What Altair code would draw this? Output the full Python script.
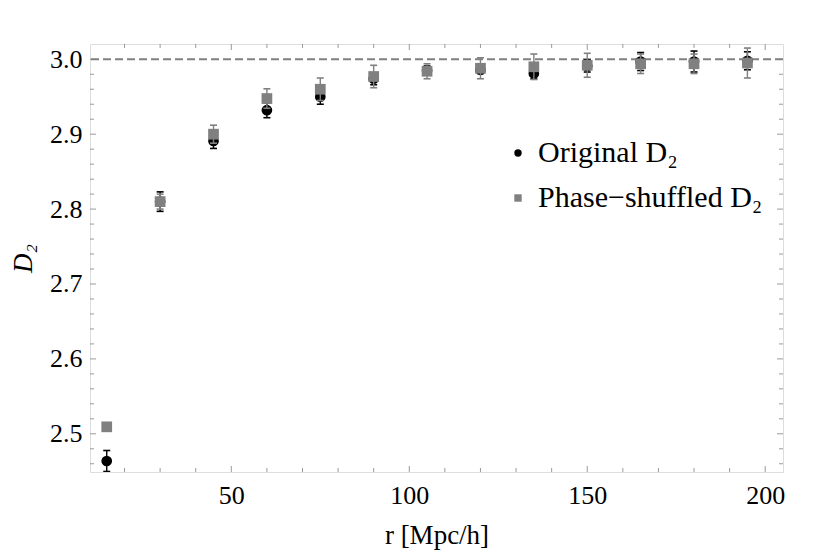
import altair as alt
import pandas as pd

# ---------------- data ----------------
r_values = [15, 30, 45, 60, 75, 90, 105, 120, 135, 150, 165, 180, 195]
original_d2 = [2.4637, 2.810, 2.891, 2.932, 2.950, 2.974, 2.985, 2.986, 2.981, 2.991, 2.997, 2.997, 2.998]
original_err = [0.014, 0.013, 0.010, 0.010, 0.010, 0.008, 0.006, 0.005, 0.007, 0.008, 0.012, 0.014, 0.012]
shuffled_d2 = [2.5093, 2.810, 2.900, 2.9476, 2.960, 2.977, 2.984, 2.988, 2.990, 2.992, 2.994, 2.994, 2.995]
shuffled_err = [0.004, 0.010, 0.012, 0.013, 0.015, 0.015, 0.010, 0.014, 0.017, 0.016, 0.013, 0.013, 0.020]

series_names = ["Original D\u2082", "Phase\u2212shuffled D\u2082"]
reference_level = [3.0]

x_major_ticks = [50, 100, 150, 200]
x_minor_ticks = [20, 30, 40, 60, 70, 80, 90, 110, 120, 130, 140, 160, 170, 180, 190]
y_major_ticks = [2.5, 2.6, 2.7, 2.8, 2.9, 3.0]
y_minor_ticks = [2.46, 2.48, 2.52, 2.54, 2.56, 2.58, 2.62, 2.64, 2.66, 2.68,
                 2.72, 2.74, 2.76, 2.78, 2.82, 2.84, 2.86, 2.88, 2.92, 2.94,
                 2.96, 2.98]

# ---------------- tables ----------------
frames = []
for name, vals, errs in [(series_names[0], original_d2, original_err),
                         (series_names[1], shuffled_d2, shuffled_err)]:
    d = pd.DataFrame({"r": r_values, "D2": vals, "err": errs})
    d["series"] = name
    d["lo"] = d["D2"] - d["err"]
    d["hi"] = d["D2"] + d["err"]
    frames.append(d)
df = pd.concat(frames, ignore_index=True)
df_orig = frames[0]
df_shuf = frames[1]

W, H = 693, 428
FONT = "Liberation Serif"
GRAY = "#808080"
FRAME = "#9a9a9a"

xs = alt.Scale(domain=[10.3, 205.0], nice=False, zero=False)
ys = alt.Scale(domain=[2.449, 3.0204], nice=False, zero=False)

x_axis = alt.Axis(values=x_major_ticks, ticks=False, domain=False, grid=False,
                  labelFont=FONT, labelFontSize=26, labelColor="black",
                  labelPadding=10, labelFlush=False, format="d",
                  title="r [Mpc/h]", titleFont=FONT, titleFontSize=27,
                  titleFontWeight="normal", titleColor="black", titlePadding=14)
y_axis = alt.Axis(values=y_major_ticks, ticks=False, domain=False, grid=False,
                  labelFont=FONT, labelFontSize=26, labelColor="black",
                  labelPadding=8, labelFlush=False, format=".1f",
                  title="D\u2082", titleFont=FONT, titleFontSize=27,
                  titleFontStyle="italic", titleFontWeight="normal",
                  titleColor="black", titlePadding=12)


def X(field):
    return alt.X(field, scale=xs, axis=x_axis)


def Y(field):
    return alt.Y(field, scale=ys, axis=y_axis)


# reference dashed line
ref = alt.Chart(pd.DataFrame({"y": reference_level})).mark_rule(
    color=GRAY, strokeWidth=2, strokeDash=[8, 4]
).encode(y=Y("y:Q"))


def errorbars(d, color):
    base = alt.Chart(d)
    stem = base.mark_rule(color=color, strokeWidth=1.4, clip=True).encode(
        x=X("r:Q"), y=Y("lo:Q"), y2="hi:Q",
    )
    cap_lo = base.mark_tick(color=color, thickness=1.6, size=7,
                            orient="horizontal", opacity=1, clip=True).encode(
        x=X("r:Q"), y=Y("lo:Q"),
    )
    cap_hi = base.mark_tick(color=color, thickness=1.6, size=7,
                            orient="horizontal", opacity=1, clip=True).encode(
        x=X("r:Q"), y=Y("hi:Q"),
    )
    return [stem, cap_lo, cap_hi]


color_scale = alt.Scale(domain=series_names, range=["black", GRAY])
shape_scale = alt.Scale(domain=series_names, range=["circle", "square"])

legend = alt.Legend(title=None, orient="none", legendX=413, legendY=94,
                    labelFont=FONT, labelFontSize=30, labelColor="black",
                    labelLimit=0,
                    symbolSize=55, symbolStrokeWidth=0, labelOffset=5,
                    rowPadding=15, padding=0)


def points(d, size):
    return alt.Chart(d).mark_point(filled=True, opacity=1, size=size,
                                   strokeWidth=0, clip=True).encode(
        x=X("r:Q"),
        y=Y("D2:Q"),
        color=alt.Color("series:N", scale=color_scale, legend=legend),
        shape=alt.Shape("series:N", scale=shape_scale, legend=legend),
    )


# frame ticks (pointing inward) on all four sides
def tick_layers(vals, length, axis):
    c = alt.Chart(pd.DataFrame({"v": vals})).mark_rule(color=FRAME, strokeWidth=1)
    if axis == "x":
        return [
            c.encode(x=X("v:Q"), y=alt.value(H), y2=alt.value(H - length)),
            c.encode(x=X("v:Q"), y=alt.value(0), y2=alt.value(length)),
        ]
    return [
        c.encode(y=Y("v:Q"), x=alt.value(0), x2=alt.value(length)),
        c.encode(y=Y("v:Q"), x=alt.value(W), x2=alt.value(W - length)),
    ]


layers = []
layers += tick_layers(x_major_ticks, 6, "x")
layers += tick_layers(x_minor_ticks, 4, "x")
layers += tick_layers(y_major_ticks, 6, "y")
layers += tick_layers(y_minor_ticks, 4, "y")
layers.append(ref)
layers += errorbars(df_orig, "black")
layers.append(points(df, 115))
layers += errorbars(df_shuf, GRAY)

chart = alt.layer(*layers).properties(
    width=W, height=H,
    autosize=alt.AutoSizeParams(type="none"),
    padding={"left": 82, "top": 36, "right": 30, "bottom": 79},
).configure_view(stroke=FRAME, strokeWidth=1).configure(background="white")

chart.save("out.html", embed_options={"renderer": "svg", "actions": False})
